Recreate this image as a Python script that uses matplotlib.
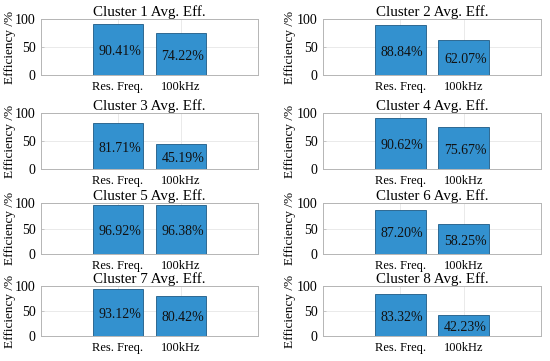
import matplotlib
matplotlib.use("Agg")
import matplotlib.pyplot as plt

plt.rcParams['font.family'] = ['Liberation Serif', 'DejaVu Serif']

categories = ["Res. Freq.", "100kHz"]
cluster_names = ["Cluster %d Avg. Eff." % i for i in range(1, 9)]
res_freq = [90.41, 88.84, 81.71, 90.62, 96.92, 87.20, 93.12, 83.32]
khz100 = [74.22, 62.07, 45.19, 75.67, 96.38, 58.25, 80.42, 42.23]
yticks = [0, 50, 100]

W, H = 550, 361
# axes boxes in pixels (left, top, right, bottom)
col_x = [(41, 258), (323, 541)]
row_y = [(19, 75), (113, 169), (203, 254), (286, 336)]
ylab_x = [16, 296]  # right edge of the rotated y label

bar_color = "#3391cf"
edge_color = "#1d5a85"

fig = plt.figure(figsize=(W / 100, H / 100), dpi=100)

for k in range(8):
    r, c = divmod(k, 2)
    x0, x1 = col_x[c]
    y0, y1 = row_y[r]
    ax = fig.add_axes([x0 / W, 1 - y1 / H, (x1 - x0) / W, (y1 - y0) / H])
    vals = [res_freq[k], khz100[k]]
    pos = [1, 2]
    ax.bar(pos, vals, width=0.8, color=bar_color, edgecolor=edge_color, linewidth=0.6, zorder=3)
    for p, v in zip(pos, vals):
        ax.text(p + 0.03, v / 2 - 4, "%.2f%%" % v, ha="center", va="center", fontsize=10, color="#111111", zorder=4)
    ax.set_xlim(-0.22, 3.22)
    ax.set_ylim(0, 100)
    ax.set_xticks(pos)
    ax.set_xticklabels(categories, fontsize=9)
    ax.set_yticks(yticks)
    ax.set_yticklabels([str(t) for t in yticks], fontsize=10)
    ax.set_title(cluster_names[k], fontsize=10.8, pad=2)
    ax.set_ylabel("Efficiency /%", fontsize=9.5)
    ax.yaxis.set_label_coords((ylab_x[c] - x0) / (x1 - x0), 0.5)
    ax.grid(True, color="#e6e6e6", linewidth=0.6, zorder=0)
    for s in ax.spines.values():
        s.set_color("#b5b5b5")
        s.set_linewidth(0.7)
    ax.tick_params(axis="y", length=2, width=0.5, color="#b5b5b5", pad=4, direction="in")
    ax.tick_params(axis="x", length=2, width=0.5, color="#b5b5b5", pad=4, direction="in")

fig.savefig("out.png", dpi=100)
